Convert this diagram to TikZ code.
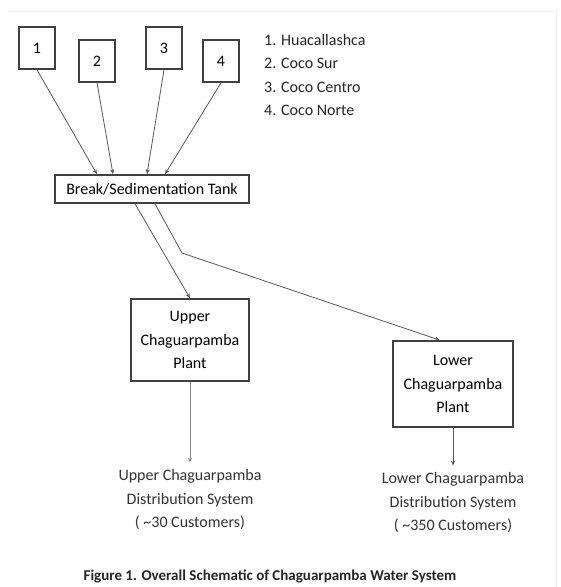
\documentclass[tikz,border=0pt]{standalone}
\usepackage{fontspec}
\setmainfont{Carlito}
\usepackage{tikz}
\usetikzlibrary{arrows.meta,positioning,calc}

\begin{document}
\begin{tikzpicture}[
    x=1pt, y=-1pt,
    font=\fontsize{16}{23.5}\selectfont,
    srcbox/.style={draw=black!75, line width=1.6pt, minimum width=36pt, minimum height=42pt, inner sep=0pt},
    tank/.style={draw=black!75, line width=1.6pt, minimum width=194pt, minimum height=28pt, inner sep=0pt},
    plant/.style={draw=black!75, line width=1.6pt, align=center, inner sep=0pt},
    dist/.style={align=center, inner sep=7pt, text=black!80},
    flow/.style={-{Stealth[length=5pt, width=4pt]}, draw=black!65, line width=0.8pt}
]
\useasboundingbox (0,0) rectangle (561,587);
% faint frame of the scanned figure
\draw[black!6, line width=0.8pt] (8,11) -- (556,11) -- (556,587);

% sources
\node[srcbox] (s1) at (37,48) {1};
\node[srcbox] (s2) at (97,61) {2};
\node[srcbox] (s3) at (164,48) {3};
\node[srcbox] (s4) at (221,61) {4};
\node[anchor=north west, align=left, inner sep=0pt, text=black!85] (legend) at (264,34)
    {1. Huacallashca\\2. Coco Sur\\3. Coco Centro\\4. Coco Norte};

% tank and plants
\node[tank] (tank) at (152,189) {Break/Sedimentation Tank};
\node[plant, minimum width=118pt, minimum height=82pt] (upper) at (190,340)
    {Upper\\Chaguarpamba\\Plant};
\node[plant, minimum width=120pt, minimum height=86pt] (lower) at (453,384)
    {Lower\\Chaguarpamba\\Plant};
\coordinate (bend) at (182,253);

% distribution systems
\node[dist] (udist) at (190,500) {Upper Chaguarpamba\\Distribution System\\( \textasciitilde30 Customers)};
\node[dist] (ldist) at (453,503) {Lower Chaguarpamba\\Distribution System\\( \textasciitilde350 Customers)};

\node[font=\bfseries\fontsize{15}{18}\selectfont, text=black!85] (caption) at (270,576)
    {Figure 1. Overall Schematic of Chaguarpamba Water System};

\draw[flow] (s1.south) -- ([xshift=-55pt]tank.north);
\draw[flow] (s2.south) -- ([xshift=-39pt]tank.north);
\draw[flow] (s3.south) -- ([xshift=-5pt]tank.north);
\draw[flow] (s4.south) -- ([xshift=13pt]tank.north);
\draw[flow] ([xshift=-17pt]tank.south) -- (upper.north);
\draw[flow] ([xshift=3pt]tank.south) -- (bend) -- ([xshift=-13pt]lower.north);
\draw[flow, draw=black!45] (upper) -- (udist);
\draw[flow] (lower) -- (ldist);
\end{tikzpicture}
\end{document}
